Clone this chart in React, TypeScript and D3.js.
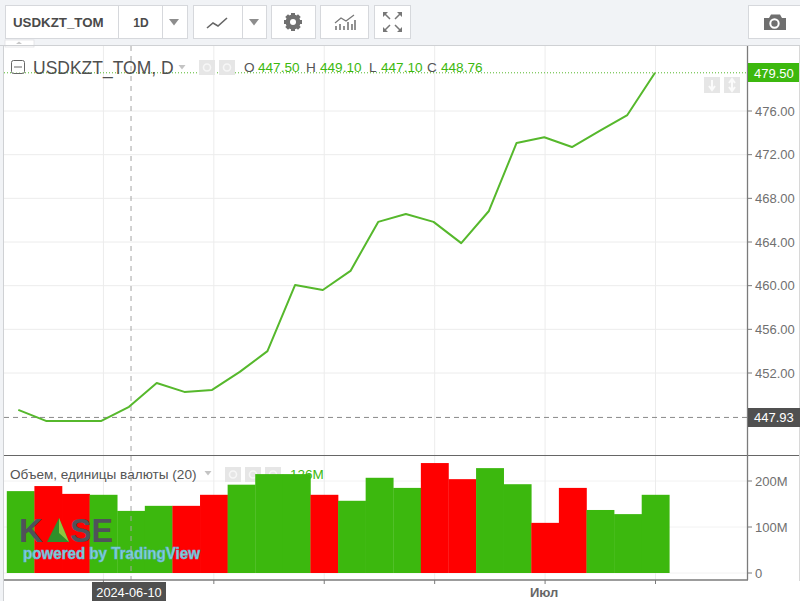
import React from "react";
import * as d3 from "d3";

const closes = [448.62, 447.61, 447.61, 447.61, 448.9, 451.09, 450.27, 450.45, 452.1, 454.0, 460.07, 459.6, 461.35, 465.84, 466.57, 465.84, 463.9, 466.84, 473.07, 473.6, 472.7, 474.17, 475.63, 479.5];
const volumes = [178, 189, 172, 170, 135, 146, 146, 170, 192, 215, 215, 170, 157, 207, 185, 239, 204, 228, 193, 109, 185, 137, 128, 170];
const volumeUp = [1, 0, 0, 1, 1, 1, 0, 0, 1, 1, 1, 0, 1, 1, 1, 0, 0, 1, 1, 0, 0, 1, 1, 1];
const priceTicks = [452, 456, 460, 464, 468, 472, 476];
const volumeTicks = [0, 100, 200];
const timeGridIdx = [3, 7, 11, 15, 19, 23];
const crosshairIdx = 4;
const crosshairDate = "2024-06-10";
const monthIdx = 19;
const monthLabel = "Июл";
const lastPrice = 479.5;
const hairPrice = 447.93;
const ohlc = [["O", "447.50", 244], ["H", "449.10", 306], ["L", "447.10", 369], ["C", "448.76", 427]] as const;

const GREEN = "#3cb80e";
const LINE = "#56b82c";
const RED = "#ff0000";
const GRID = "#ececec";
const AXIS = "#7b7b7b";
const TXT = "#707070";
const FONT = "'Liberation Sans', Arial, sans-serif";

const x = d3.scaleLinear().domain([0, 23]).range([20.6, 655.5]);
const xLine = d3.scaleLinear().domain([0, 23]).range([18.3, 655]);
const bw = x(1) - x(0);
const y = d3.scaleLinear().domain([452, 476]).range([373, 111]);
const yv = d3.scaleLinear().domain([0, 200]).range([573, 481]);
const linePath = d3.line<number>().x((_, i) => xLine(i)).y((d) => y(d))(closes) as string;

const Btn = ({ x0, w, y0 = 5, h = 33 }: { x0: number; w: number; y0?: number; h?: number }) => (
  <rect x={x0 + 0.5} y={y0 + 0.5} width={w} height={h} fill="#fff" stroke="#d6d8dc" />
);
const Arrow = ({ cx, cy, s = 5, c = "#8d8d8d" }: { cx: number; cy: number; s?: number; c?: string }) => (
  <path d={`M${cx - s},${cy - s * 0.6}H${cx + s}L${cx},${cy + s * 0.7}Z`} fill={c} />
);
const Ghost = ({ x0, y0, w = 15 }: { x0: number; y0: number; w?: number }) => (
  <g>
    <rect x={x0} y={y0} width={w} height={15} fill="#e6e6e6" />
    <circle cx={x0 + w / 2} cy={y0 + 7.5} r={3.5} fill="none" stroke="#f6f6f6" strokeWidth={1.6} />
  </g>
);

export default function App() {
  const gear = d3.range(8).map((i) => (
    <rect key={i} x={291} y={13} width={4} height={5} fill="#707070" transform={`rotate(${i * 45} 293 22)`} />
  ));
  return (
    <svg width={800} height={601} style={{ position: "fixed", left: 0, top: 0, fontFamily: FONT }}>
      <rect width={800} height={601} fill="#fff" />
      <rect width={800} height={46} fill="#f1f3f6" />
      <rect x={0} y={46} width={4} height={555} fill="#f1f3f6" />
      <rect x={5} y={40} width={29} height={7} fill="#fff" stroke="#dcdde0" strokeWidth={0.7} />
      <path d="M16,44L19,41.5L22,44Z" fill="#c8c8c8" />

      {/* toolbar */}
      <Btn x0={5} w={113} /><Btn x0={118} w={44} /><Btn x0={162} w={25} />
      <Btn x0={193} w={49} /><Btn x0={242} w={24} />
      <Btn x0={271} w={44} /><Btn x0={320} w={48} /><Btn x0={374} w={36} />
      <Btn x0={748} w={56} />
      <text x={13} y={26.5} fontSize={13.3} fontWeight={700} fill="#4a4a4a">USDKZT_TOM</text>
      <text x={141} y={26.5} fontSize={12} fontWeight={700} fill="#4a4a4a" textAnchor="middle">1D</text>
      <Arrow cx={174} cy={22} />
      <path d="M207,28L213,23L218,26L227,18" fill="none" stroke="#666" strokeWidth={1.6} />
      <Arrow cx={254} cy={22} />
      {gear}
      <circle cx={293} cy={22} r={7.5} fill="#707070" />
      <circle cx={293} cy={22} r={3} fill="#fff" />
      <path d="M336,30V26M340,30V24M344,30V26M348,30V22M352,30V24M355,30V20" stroke="#777" strokeWidth={1.6} />
      <path d="M335,23L341,18L346,21L354,15" fill="none" stroke="#777" strokeWidth={1.2} />
      <path d="M383,12H388L383,17ZM402,12H397L402,17ZM383,32H388L383,27ZM402,32H397L402,27Z" fill="#777" />
      <path d="M385,14L390,19M400,14L395,19M385,30L390,25M400,30L395,25" stroke="#777" strokeWidth={1.5} />
      <path d="M764,30V18H769L771,14.5H780L782,18H786V30Z" fill="#6f6f6f" />
      <circle cx={774.5} cy={23.5} r={4.2} fill="none" stroke="#fff" strokeWidth={2} />

      {/* plot frame and grid */}
      <line x1={0} x2={800} y1={45.5} y2={45.5} stroke="#cfd1d4" />
      <line x1={3.5} x2={3.5} y1={46} y2={601} stroke="#cfd1d4" />
      {priceTicks.map((t) => <line key={t} x1={4} x2={747} y1={y(t)} y2={y(t)} stroke={GRID} />)}
      {volumeTicks.map((t) => <line key={t} x1={4} x2={747} y1={yv(t)} y2={yv(t)} stroke="#f2f2f2" />)}
      {timeGridIdx.map((i) => <line key={i} x1={x(i)} x2={x(i)} y1={46} y2={580} stroke={GRID} />)}

      {/* volume legend sits beneath the bars */}
      <text x={10} y={479} fontSize={13.6} fill="#555">Объем, единицы валюты (20)</text>
      <Arrow cx={208} cy={473} s={3.5} c="#c4c4c4" />
      <Ghost x0={225} y0={467} w={16} /><Ghost x0={245} y0={467} w={16} /><Ghost x0={265} y0={467} w={16} />
      <text x={290} y={479} fontSize={13.5} fill={GREEN}>126M</text>

      {/* volume bars */}
      {volumes.map((v, i) => (
        <rect key={i} x={x(i) - bw / 2} y={yv(v)} width={bw + 0.3} height={yv(0) - yv(v)} fill={volumeUp[i] ? GREEN : RED} />
      ))}

      {/* watermark */}
      <text x={19} y={542} fontSize={33} fontWeight={700} fill="#50525a">K</text>
      <path d="M47,542L59,518L69,542Z" fill="#2f8f2a" />
      <path d="M59,518L69,542L59,533Z" fill="#8dc63f" />
      <text x={70} y={542} fontSize={33} fontWeight={700} fill="#50525a" textLength={43} lengthAdjust="spacingAndGlyphs">SE</text>
      <text x={23} y={559} fontSize={16.5} fontWeight={700} fill="#7fd6d2" stroke="#6aa9e0" strokeWidth={0.6} textLength={177} lengthAdjust="spacingAndGlyphs">powered by TradingView</text>

      {/* price pane */}
      <line x1={4} x2={747} y1={y(lastPrice)} y2={y(lastPrice)} stroke={LINE} strokeDasharray="1 2" />
      <line x1={4} x2={747} y1={y(hairPrice)} y2={y(hairPrice)} stroke="#8a8a8a" strokeDasharray="5 4" />
      <line x1={x(crosshairIdx)} x2={x(crosshairIdx)} y1={46} y2={580} stroke="#a5a5a5" strokeDasharray="5 5" />
      <path d={linePath} fill="none" stroke={LINE} strokeWidth={2} strokeLinejoin="round" />

      {/* price legend */}
      <rect x={11.5} y={60.5} width={13} height={13} rx={2} fill="#fff" fillOpacity={0.5} stroke="#666" />
      <line x1={14} x2={22} y1={67} y2={67} stroke="#666" />
      <text x={33} y={73.5} fontSize={17.5} fill="#4f4f4f">USDKZT_TOM, D</text>
      <Arrow cx={182} cy={67} s={3.5} c="#c4c4c4" />
      <Ghost x0={199} y0={60} w={16} /><Ghost x0={219} y0={60} w={16} />
      {ohlc.map(([k, v, px]) => (
        <g key={k} fontSize={13.6}>
          <text x={px} y={72} fill="#555">{k}</text>
          <text x={px + (k === "L" ? 12 : 14)} y={72} fill={GREEN}>{v}</text>
        </g>
      ))}
      <rect x={704} y={77} width={16} height={16} fill="#e6e6e6" />
      <rect x={724} y={77} width={16} height={16} fill="#e6e6e6" />
      <path d="M712,80V89M709,86L712,90L715,86" fill="none" stroke="#fbfbfb" strokeWidth={2} />
      <path d="M732,80V90M729,83L732,79L735,83M729,87L732,91L735,87" fill="none" stroke="#fbfbfb" strokeWidth={2} />

      {/* separators and axes */}
      <line x1={4} x2={800} y1={455.5} y2={455.5} stroke="#666" />
      <line x1={747.5} x2={747.5} y1={46} y2={580} stroke={AXIS} strokeWidth={1.3} />
      <line x1={4} x2={748} y1={580} y2={580} stroke={AXIS} strokeWidth={1.3} />
      <line x1={799.5} x2={799.5} y1={46} y2={581} stroke="#d8d8d8" />
      {priceTicks.map((t) => (
        <g key={t}>
          <line x1={748} x2={752} y1={y(t)} y2={y(t)} stroke={AXIS} />
          <text x={755} y={y(t) + 4.5} fontSize={13} fill={TXT}>{t.toFixed(2)}</text>
        </g>
      ))}
      {volumeTicks.map((t) => (
        <g key={t}>
          <line x1={748} x2={752} y1={yv(t)} y2={yv(t)} stroke={AXIS} />
          <text x={755} y={yv(t) + 4.5} fontSize={13} fill={TXT}>{t === 0 ? "0" : `${t}M`}</text>
        </g>
      ))}
      {timeGridIdx.map((i) => <line key={i} x1={x(i)} x2={x(i)} y1={580} y2={584} stroke={AXIS} />)}

      <rect x={748} y={63} width={51} height={19} fill={GREEN} />
      <text x={754} y={77.5} fontSize={13} fill="#fff">{lastPrice.toFixed(2)}</text>
      <rect x={748} y={408} width={52} height={19} fill="#505050" />
      <text x={754} y={422} fontSize={13} fill="#fff">{hairPrice.toFixed(2)}</text>

      <rect x={92} y={582} width={74} height={19} fill="#505050" />
      <text x={129} y={597} fontSize={12.8} fill="#fff" textAnchor="middle">{crosshairDate}</text>
      <text x={x(monthIdx) - 1} y={597} fontSize={13} fontWeight={700} fill="#666" textAnchor="middle">{monthLabel}</text>
    </svg>
  );
}
